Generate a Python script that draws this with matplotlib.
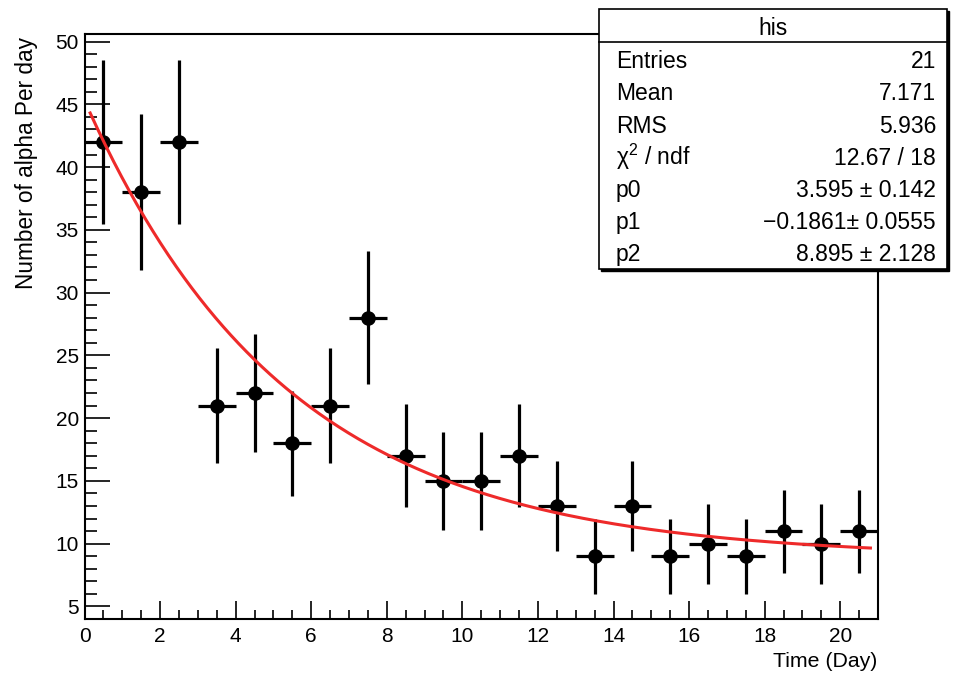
import numpy as np
import matplotlib
matplotlib.use('Agg')
import matplotlib.pyplot as plt
from matplotlib.patches import Rectangle
from matplotlib.ticker import MultipleLocator

plt.rcParams['font.family'] = ['Liberation Sans', 'DejaVu Sans']
plt.rcParams['mathtext.fontset'] = 'custom'
plt.rcParams['mathtext.rm'] = 'Liberation Sans'
plt.rcParams['mathtext.it'] = 'Liberation Sans:italic'

# ---- data ----
bin_centers = [0.5, 1.5, 2.5, 3.5, 4.5, 5.5, 6.5, 7.5, 8.5, 9.5, 10.5,
               11.5, 12.5, 13.5, 14.5, 15.5, 16.5, 17.5, 18.5, 19.5, 20.5]
counts = [42, 38, 42, 21, 22, 18, 21, 28, 17, 15, 15,
          17, 13, 9, 13, 9, 10, 9, 11, 10, 11]
count_errors = [6.5, 6.2, 6.5, 4.6, 4.7, 4.2, 4.6, 5.3, 4.1, 3.9, 3.9,
                4.1, 3.6, 3.0, 3.6, 3.0, 3.2, 3.0, 3.3, 3.2, 3.3]
bin_half_width = 0.5

# fit parameters shown in the stats box: f(x) = exp(p0 + p1*x) + p2
p0, p1, p2 = 3.595, -0.1861, 8.895
fit_range = (0.15, 20.8)

stats_title = "his"
stats_labels = ["Entries", "Mean", "RMS", "χ$^{2}$ / ndf", "p0", "p1", "p2"]
stats_values = ["21", "7.171", "5.936", "12.67 / 18",
                "3.595 ± 0.142", "\u22120.1861± 0.0555", "8.895 ± 2.128"]

x_label = "Time (Day)"
y_label = "Number of alpha Per day"

W, H = 955, 674
fig = plt.figure(figsize=(W / 100, H / 100), dpi=100)

def fx(px):
    return px / W

def fy(py):
    return 1 - py / H

ax_l, ax_r, ax_t, ax_b = 84.5, 878, 34, 619
ax = fig.add_axes([fx(ax_l), fy(ax_b), fx(ax_r) - fx(ax_l), fy(ax_t) - fy(ax_b)])

ax.errorbar(bin_centers, counts, xerr=bin_half_width, yerr=count_errors,
            fmt='o', color='black', ms=9.5, elinewidth=2.3, capsize=0, zorder=3)

xf = np.linspace(fit_range[0], fit_range[1], 400)
yf = np.exp(p0 + p1 * xf) + p2
ax.plot(xf, yf, color='#ee2a2a', lw=2.2, zorder=4)

ax.set_xlim(0, 21)
ax.set_ylim(4.0, 50.6)
ax.xaxis.set_major_locator(MultipleLocator(2))
ax.xaxis.set_minor_locator(MultipleLocator(0.5))
ax.yaxis.set_major_locator(MultipleLocator(5))
ax.yaxis.set_minor_locator(MultipleLocator(1))
ax.tick_params(which='both', direction='in', top=False, right=False, width=1.2)
ax.tick_params(axis='x', which='major', length=13, pad=6, labelsize=15)
ax.tick_params(axis='x', which='minor', length=6.5)
ax.tick_params(axis='y', which='major', length=18, pad=4, labelsize=15)
ax.tick_params(axis='y', which='minor', length=8.6)
for s in ax.spines.values():
    s.set_linewidth(1.5)

fig.text(fx(27), fy(37), y_label, rotation=90, ha='center', va='top', fontsize=16.3)
fig.text(fx(877), fy(667), x_label, ha='right', va='baseline', fontsize=15.3)

# ---- stats box ----
bx_l, bx_r, bx_t, bx_b = 599, 947, 9, 269
sep_y = 42
shadow = Rectangle((fx(bx_l + 2), fy(bx_b + 2)), fx(bx_r) - fx(bx_l), fy(bx_t) - fy(bx_b),
                   transform=fig.transFigure, facecolor='black', edgecolor='black',
                   lw=1.0, zorder=5)
fig.patches.append(shadow)
box = Rectangle((fx(bx_l), fy(bx_b)), fx(bx_r) - fx(bx_l), fy(bx_t) - fy(bx_b),
                transform=fig.transFigure, facecolor='white', edgecolor='black',
                lw=1.2, zorder=6)
fig.patches.append(box)
fig.lines.append(plt.Line2D([fx(bx_l), fx(bx_r)], [fy(sep_y), fy(sep_y)],
                            transform=fig.transFigure, color='black', lw=1.2, zorder=7))
fig.text(fx((bx_l + bx_r) / 2), fy(35), stats_title, ha='center', va='baseline',
         fontsize=16.5, zorder=8)
row_base0, row_step = 68.3, 32.2
for i, (lab, val) in enumerate(zip(stats_labels, stats_values)):
    yb = row_base0 + row_step * i
    fig.text(fx(616), fy(yb), lab, ha='left', va='baseline', fontsize=16.5, zorder=8)
    fig.text(fx(936), fy(yb), val, ha='right', va='baseline', fontsize=16.5, zorder=8)

fig.savefig('out.png', dpi=100)
